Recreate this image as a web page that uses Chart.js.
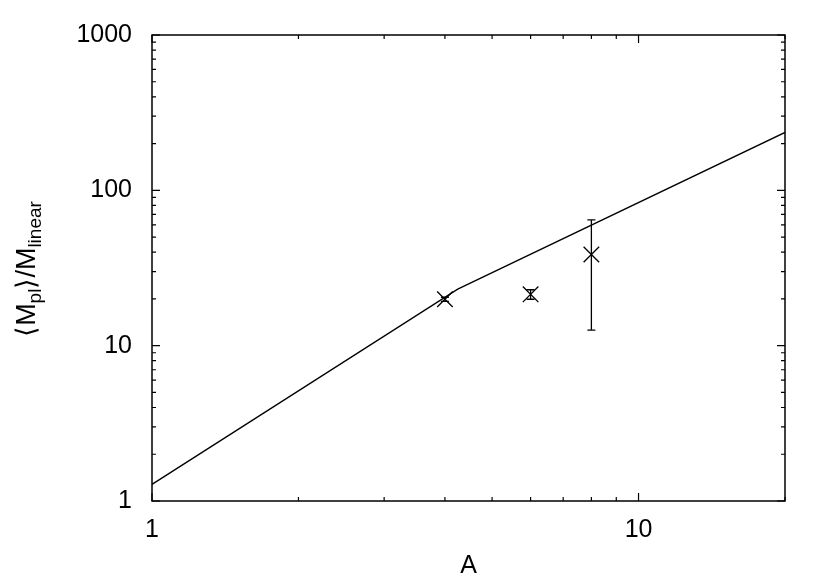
<!DOCTYPE html>
<html lang="en">
<head>
    <meta charset="UTF-8">
    <title>Mpl / Mlinear vs A</title>
    <script src="https://cdn.jsdelivr.net/npm/chart.js"></script>
    <style>
        body { margin: 0; background: #fff; }
        #wrap { width: 830px; height: 581px; }
    </style>
</head>
<body>
    <div id="wrap"><canvas id="chart"></canvas></div>

    <script>
        // model curve (knee near A = 4.25)
        const curveA = [1, 4.25, 20];
        const curveM = [1.28, 23.1, 236];

        // measured points with error bars
        const pointA = [4, 6, 8];
        const pointM = [19.9, 21.4, 38.6];
        const pointErr = [0.6, 1.5, 26];

        // axis ticks
        const xTicks = [1, 2, 3, 4, 5, 6, 7, 8, 9, 10, 20];
        const xLabels = [1, 10];
        const yTicks = [1, 2, 3, 4, 5, 6, 7, 8, 9, 10, 20, 30, 40, 50, 60, 70, 80, 90,
                        100, 200, 300, 400, 500, 600, 700, 800, 900, 1000];
        const yLabels = [1, 10, 100, 1000];

        const FONT = "'Liberation Sans', Arial, Helvetica, sans-serif";

        // frame, inward ticks on all four sides, error bars
        const framePlugin = {
            id: 'frame',
            afterDatasetsDraw(chart) {
                const { ctx, chartArea: a, scales } = chart;
                const xs = scales.x, ys = scales.y;
                ctx.save();
                ctx.strokeStyle = '#000';

                // error bars
                ctx.lineWidth = 1.3;
                pointA.forEach((v, i) => {
                    const px = xs.getPixelForValue(v);
                    const top = ys.getPixelForValue(pointM[i] + pointErr[i]);
                    const bot = ys.getPixelForValue(pointM[i] - pointErr[i]);
                    ctx.beginPath();
                    ctx.moveTo(px, top); ctx.lineTo(px, bot);
                    ctx.moveTo(px - 4, top); ctx.lineTo(px + 4, top);
                    ctx.moveTo(px - 4, bot); ctx.lineTo(px + 4, bot);
                    ctx.stroke();
                });

                // ticks
                ctx.lineWidth = 1.2;
                ctx.beginPath();
                xTicks.forEach(v => {
                    const len = xLabels.includes(v) ? 8 : 4;
                    const px = xs.getPixelForValue(v);
                    ctx.moveTo(px, a.bottom); ctx.lineTo(px, a.bottom - len);
                    ctx.moveTo(px, a.top); ctx.lineTo(px, a.top + len);
                });
                yTicks.forEach(v => {
                    const len = yLabels.includes(v) ? 8 : 4;
                    const py = ys.getPixelForValue(v);
                    ctx.moveTo(a.left, py); ctx.lineTo(a.left + len, py);
                    ctx.moveTo(a.right, py); ctx.lineTo(a.right - len, py);
                });
                ctx.stroke();

                ctx.lineWidth = 1.5;
                ctx.strokeRect(a.left, a.top, a.right - a.left, a.bottom - a.top);
                ctx.restore();
            }
        };

        // y title with subscripts: <M_pl>/M_linear
        const yTitlePlugin = {
            id: 'yTitle',
            afterDraw(chart) {
                const { ctx } = chart;
                const parts = [
                    ['\u27E8M', false], ['pl', true], ['\u27E9/M', false], ['linear', true]
                ];
                const big = '27px ' + FONT, small = '19px ' + FONT;
                let total = 0;
                parts.forEach(p => { ctx.font = p[1] ? small : big; total += ctx.measureText(p[0]).width; });
                ctx.save();
                ctx.translate(35, 269);
                ctx.rotate(-Math.PI / 2);
                ctx.fillStyle = '#000';
                ctx.textBaseline = 'alphabetic';
                let x = -total / 2;
                parts.forEach(p => {
                    ctx.font = p[1] ? small : big;
                    ctx.fillText(p[0], x, p[1] ? 6 : 0);
                    x += ctx.measureText(p[0]).width;
                });
                ctx.restore();
            }
        };

        new Chart(document.getElementById('chart'), {
            type: 'scatter',
            data: {
                datasets: [
                    {
                        label: 'model',
                        data: curveA.map((a, i) => ({ x: a, y: curveM[i] })),
                        showLine: true,
                        borderColor: '#000',
                        borderWidth: 1.3,
                        pointRadius: 0,
                        tension: 0
                    },
                    {
                        label: 'data',
                        data: pointA.map((a, i) => ({ x: a, y: pointM[i] })),
                        pointStyle: 'crossRot',
                        pointRadius: 11,
                        borderColor: '#000',
                        borderWidth: 1.3
                    }
                ]
            },
            options: {
                responsive: true,
                maintainAspectRatio: false,
                animation: false,
                layout: { padding: { top: 31, right: 45, left: 0, bottom: 0 } },
                plugins: { legend: { display: false }, tooltip: { enabled: false } },
                scales: {
                    x: {
                        type: 'logarithmic',
                        min: 1, max: 20,
                        border: { display: false },
                        grid: { display: false, drawTicks: false },
                        afterBuildTicks: s => { s.ticks = xTicks.map(v => ({ value: v })); },
                        afterFit: s => { s.height = 80; },
                        ticks: {
                            autoSkip: false, maxRotation: 0, padding: 14,
                            color: '#000', font: { family: FONT, size: 25 },
                            callback: v => xLabels.includes(v) ? String(v) : ''
                        },
                        title: {
                            display: true, text: 'A', color: '#000',
                            font: { family: FONT, size: 25 }, padding: { top: 7, bottom: 0 }
                        }
                    },
                    y: {
                        type: 'logarithmic',
                        min: 1, max: 1000,
                        border: { display: false },
                        grid: { display: false, drawTicks: false },
                        afterBuildTicks: s => { s.ticks = yTicks.map(v => ({ value: v })); },
                        afterFit: s => { s.width = 152; },
                        ticks: {
                            autoSkip: false, padding: 20,
                            color: '#000', font: { family: FONT, size: 25 },
                            callback: v => yLabels.includes(v) ? String(v) : ''
                        }
                    }
                }
            },
            plugins: [framePlugin, yTitlePlugin]
        });
    </script>
</body>
</html>
